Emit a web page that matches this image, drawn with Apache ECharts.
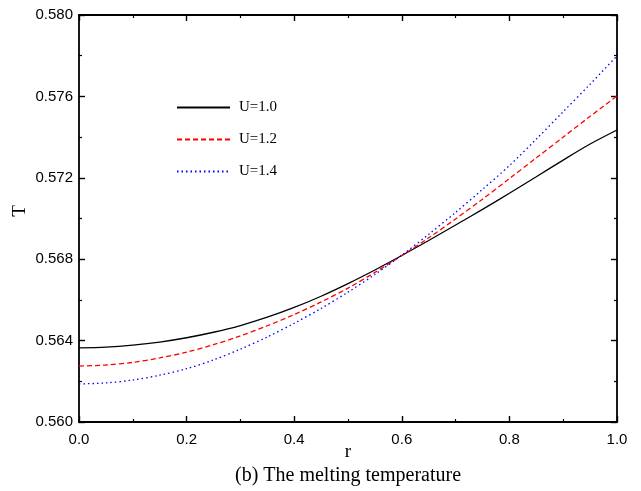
<!DOCTYPE html>
<html>
<head>
<meta charset="utf-8">
<script src="https://cdn.jsdelivr.net/npm/echarts@6/dist/echarts.min.js"></script>
<style>html,body{margin:0;padding:0;background:#fff}#c{width:641px;height:491px}</style>
</head>
<body>
<div id="c"></div>
<script>
var rVals = [0.0, 0.05, 0.1, 0.15, 0.2, 0.25, 0.3, 0.35, 0.4, 0.45, 0.5, 0.55, 0.6, 0.65, 0.7, 0.75, 0.8, 0.85, 0.9, 0.95, 1.0];
var tU10 = [0.56364, 0.56368, 0.56378, 0.56393, 0.56414, 0.56441, 0.56474, 0.56515, 0.56563, 0.56618, 0.56680, 0.56747, 0.56818, 0.56892, 0.56968, 0.57045, 0.57124, 0.57205, 0.57287, 0.57366, 0.57435];
var tU12 = [0.56275, 0.56280, 0.56293, 0.56315, 0.56343, 0.56380, 0.56423, 0.56473, 0.56528, 0.56590, 0.56658, 0.56735, 0.56818, 0.56905, 0.56998, 0.57095, 0.57196, 0.57298, 0.57400, 0.57502, 0.57602];
var tU14 = [0.56187, 0.56192, 0.56206, 0.56230, 0.56262, 0.56305, 0.56358, 0.56418, 0.56485, 0.56558, 0.56638, 0.56725, 0.56820, 0.56922, 0.57030, 0.57143, 0.57260, 0.57390, 0.57525, 0.57660, 0.57799];
var seriesNames = ['U=1.0', 'U=1.2', 'U=1.4'];
var xTitle = 'r';
var yTitle = 'T';
var caption = '(b) The melting temperature';

function pairs(ys){ return rVals.map(function(r,i){ return [r, ys[i]]; }); }

var chart = echarts.init(document.getElementById('c'), null, {renderer:'canvas'});
var axisCommon = {
  axisLine:{show:true, onZero:false, lineStyle:{color:'#000', width:1.8}},
  axisTick:{show:true, inside:true, length:6, lineStyle:{color:'#000', width:1.4}},
  minorTick:{show:true, splitNumber:2, length:3, lineStyle:{color:'#000', width:1.2}},
  splitLine:{show:false}
};
function ax(extra){ return Object.assign({}, JSON.parse(JSON.stringify(axisCommon)), extra); }

chart.setOption({
  animation:false,
  backgroundColor:'#fff',
  grid:{left:79, right:24, top:15, bottom:69, containLabel:false},
  legend:{
    orient:'vertical', left:176, top:100, padding:0, itemWidth:53, itemHeight:14, itemGap:17,
    data:seriesNames,
    itemStyle:{opacity:0},
    textStyle:{fontFamily:'Liberation Serif', fontSize:15, color:'#000', padding:[0,0,0,4]}
  },
  xAxis:[
    ax({type:'value', min:0, max:1, interval:0.2, position:'bottom',
      axisLabel:{margin:10, fontFamily:'Liberation Sans', fontSize:15, color:'#000', formatter:function(v){return v.toFixed(1);}}}),
    ax({type:'value', min:0, max:1, interval:0.2, position:'top', axisLabel:{show:false}})
  ],
  yAxis:[
    ax({type:'value', min:0.560, max:0.580, interval:0.004, position:'left',
      axisLabel:{margin:6, fontFamily:'Liberation Sans', fontSize:15, color:'#000', formatter:function(v){return v.toFixed(3);}}}),
    ax({type:'value', min:0.560, max:0.580, interval:0.004, position:'right', axisLabel:{show:false}})
  ],
  series:[
    {name:seriesNames[0], type:'line', smooth:0.3, symbol:'none', data:pairs(tU10),
     lineStyle:{color:'#000', width:1.3, type:'solid'}, itemStyle:{color:'#000'}},
    {name:seriesNames[1], type:'line', smooth:0.3, symbol:'none', data:pairs(tU12),
     lineStyle:{color:'#ff0000', width:1.3, type:[5,3]}, itemStyle:{color:'#ff0000'}},
    {name:seriesNames[2], type:'line', smooth:0.3, symbol:'none', data:pairs(tU14),
     lineStyle:{color:'#0000ff', width:1.3, type:[1.5,3]}, itemStyle:{color:'#0000ff'}}
  ],
  graphic:[
    {type:'text', x:348, y:452, style:{text:xTitle, fontFamily:'Liberation Serif', fontSize:19, fill:'#000', align:'center', verticalAlign:'middle'}},
    {type:'text', x:20, y:211, rotation:Math.PI/2, style:{text:yTitle, fontFamily:'Liberation Serif', fontSize:19, fill:'#000', align:'center', verticalAlign:'middle'}},
    {type:'text', x:348, y:476, style:{text:caption, fontFamily:'Liberation Serif', fontSize:20, fill:'#000', align:'center', verticalAlign:'middle'}}
  ]
});
</script>
</body>
</html>
